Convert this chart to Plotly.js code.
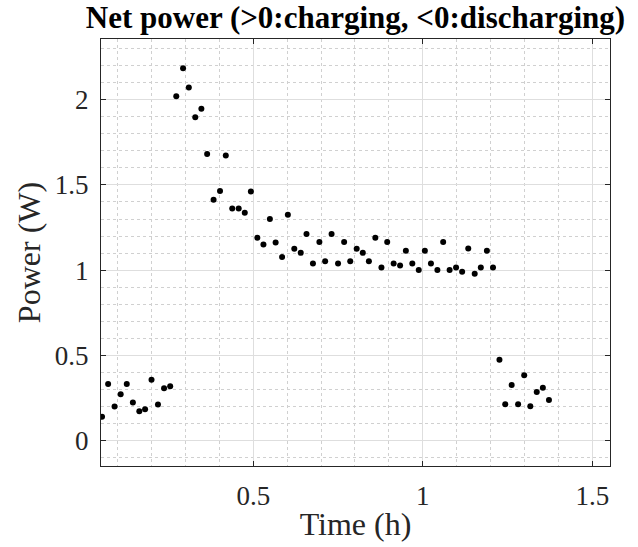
<!DOCTYPE html>
<html>
<head>
<meta charset="utf-8">
<script src="https://cdn.plot.ly/plotly-3.0.1.min.js"></script>
<style>html,body{margin:0;padding:0;background:#fff;}#chart{width:638px;height:547px;}</style>
</head>
<body>
<div id="chart"></div>
<script>
const timeH = [0.054,0.072,0.091,0.109,0.127,0.145,0.164,0.181,0.200,0.219,0.237,0.255,
  0.273,0.293,0.310,0.329,0.347,0.364,0.383,0.402,0.419,0.438,0.457,0.475,0.493,
  0.512,0.530,0.549,0.566,0.585,0.602,0.621,0.640,0.657,0.676,0.695,0.712,0.731,
  0.750,0.768,0.786,0.805,0.823,0.841,0.860,0.878,0.895,0.914,0.933,0.950,0.969,
  0.988,1.006,1.024,1.043,1.060,1.079,1.098,1.116,1.134,1.153,1.171,1.189,1.207,
  1.226,1.243,1.262,1.281,1.299,1.317,1.336,1.354,1.372];
const powerW = [0.141,0.334,0.202,0.274,0.334,0.225,0.174,0.186,0.358,0.213,0.309,0.321,
  2.020,2.183,2.071,1.897,1.946,1.681,1.413,1.464,1.673,1.362,1.362,1.337,1.462,
  1.190,1.151,1.300,1.163,1.077,1.325,1.126,1.102,1.213,1.040,1.165,1.052,1.213,
  1.040,1.165,1.052,1.126,1.102,1.052,1.190,1.016,1.165,1.040,1.028,1.114,1.040,
  1.002,1.114,1.040,1.002,1.165,1.002,1.016,0.991,1.128,0.979,1.016,1.114,1.016,
  0.475,0.215,0.327,0.215,0.385,0.203,0.287,0.311,0.239];
const titleText = "Net power (>0:charging, <0:discharging)";
const xTitle = "Time (h)";
const yTitle = "Power (W)";
const xTickVals = [0.5, 1, 1.5];
const xTickText = ["0.5", "1", "1.5"];
const yTickVals = [0, 0.5, 1, 1.5, 2];
const yTickText = ["0", "0.5", "1", "1.5", "2"];

const font = "Liberation Serif, Times New Roman, serif";
const axisCommon = {
  showline: true, linecolor: '#262626', linewidth: 1, mirror: 'ticks',
  ticks: 'inside', ticklen: 5, tickcolor: '#262626',
  showgrid: true, gridcolor: '#dedede', gridwidth: 1,
  zeroline: false,
  tickfont: {family: font, size: 27, color: '#262626'},
  tickmode: 'array'
};
const data = [{
  x: timeH, y: powerW, type: 'scatter', mode: 'markers',
  marker: {color: '#000', size: 6}, hoverinfo: 'skip'
}];
const layout = {
  width: 638, height: 547,
  margin: {l: 101, r: 28, t: 39, b: 81},
  paper_bgcolor: '#fff', plot_bgcolor: '#fff',
  showlegend: false,
  title: {text: '<b>' + titleText + '</b>', font: {family: font, size: 31, color: '#000'},
          xref: 'paper', x: 0.5, xanchor: 'center',
          yref: 'container', y: 1 - 6/547, yanchor: 'top'},
  xaxis: Object.assign({}, axisCommon, {
    range: [0.051, 1.552], tickvals: xTickVals, ticktext: xTickText,
    ticklabelstandoff: 6,
    minor: {dtick: 0.1, tick0: 0, showgrid: true, gridcolor: '#d0d0d0', griddash: 'dot', gridwidth: 1, ticks: ''},
    title: {text: xTitle, font: {family: font, size: 32, color: '#262626'}, standoff: 2}
  }),
  yaxis: Object.assign({}, axisCommon, {
    range: [-0.147, 2.355], tickvals: yTickVals, ticktext: yTickText,
    ticklabelstandoff: 6,
    minor: {dtick: 0.1, tick0: 0, showgrid: true, gridcolor: '#d0d0d0', griddash: 'dot', gridwidth: 1, ticks: ''},
    title: {text: yTitle, font: {family: font, size: 32, color: '#262626'}, standoff: 4}
  })
};
Plotly.newPlot('chart', data, layout, {displayModeBar: false, staticPlot: true});
</script>
</body>
</html>
